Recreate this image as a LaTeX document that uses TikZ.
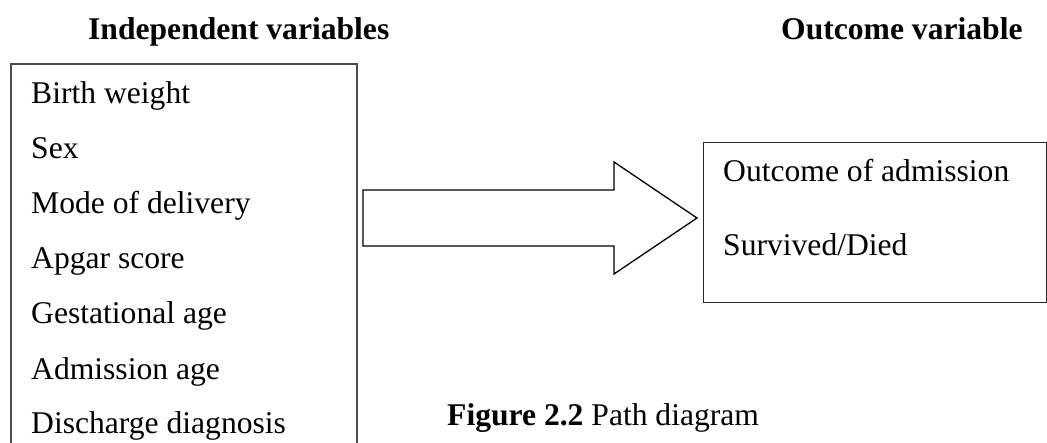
\documentclass[tikz,border=0pt]{standalone}
\usepackage{fontspec}
\setmainfont{Liberation Serif}
\begin{document}
\begin{tikzpicture}[x=1pt,y=-1pt,
  label/.style={anchor=base west,inner sep=0pt,font=\fontsize{31.6}{38}\selectfont},
  head/.style={label,font=\fontsize{31.6}{38}\selectfont\bfseries},
  frame/.style={line width=1.3pt}]
\useasboundingbox (0,0) rectangle (1047,442);
\clip (0,0) rectangle (1047,442);

% column headings
\node[head] (hin) at (88,39) {Independent variables};
\node[head] (hout) at (781,39) {Outcome variable};

% box of independent variables (runs past the lower edge)
\coordinate (lb1) at (11,450);
\coordinate (lb2) at (11,64);
\coordinate (lb3) at (357,64);
\coordinate (lb4) at (357,450);
\draw[frame,draw=black!70] (lb1) -- (lb2) -- (lb3) -- (lb4);

\node[label] (v1) at (31,103) {Birth weight};
\node[label] (v2) at (31,158) {Sex};
\node[label] (v3) at (31,213) {Mode of delivery};
\node[label] (v4) at (31,268) {Apgar score};
\node[label] (v5) at (31,323) {Gestational age};
\node[label] (v6) at (31,379) {Admission age};
\node[label] (v7) at (31,433) {Discharge diagnosis};

% outcome box
\node[frame,draw=black!85,rectangle,minimum width=343pt,minimum height=160pt,anchor=north west,inner sep=0pt] (out) at (703,142) {};
\node[label] (o1) at (723,181) {Outcome of admission};
\node[label] (o2) at (723,255) {Survived/Died};

% block arrow from the variables to the outcome
\draw[frame,line join=miter] (363,190) -- (614,190) -- (614,162) -- (697,218)
  -- (614,274) -- (614,246) -- (363,246) -- cycle;

% caption
\node[label] (cap) at (447,425) {\textbf{Figure 2.2} Path diagram};
\end{tikzpicture}
\end{document}
